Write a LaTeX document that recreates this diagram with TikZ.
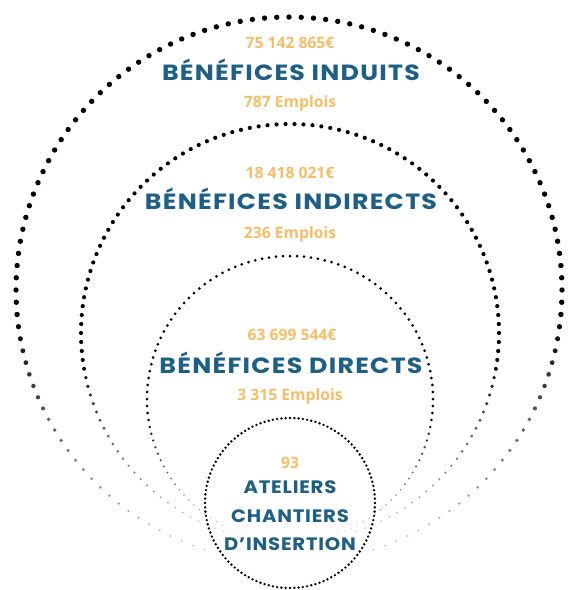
\documentclass[tikz,border=0pt]{standalone}
\usepackage{fontspec}
\newfontfamily\poptitle{Poppins}[LetterSpace=5]
\newfontfamily\popinner{Poppins}[LetterSpace=4]
\newfontfamily\osans{Open Sans}
\definecolor{tblue}{HTML}{1D5F86}
\definecolor{torange}{HTML}{F6BE66}
\tikzset{
  ttl/.style={font=\poptitle\bfseries\fontsize{22}{24}\selectfont, text=tblue, inner sep=0pt, anchor=base, xscale=1.15, transform shape},
  num/.style={font=\osans\bfseries\fontsize{15.7}{18}\selectfont, text=torange, inner sep=0pt, anchor=base},
  inner/.style={font=\popinner\bfseries\fontsize{18}{20}\selectfont, text=tblue, inner sep=0pt, anchor=base, xscale=1.09, transform shape},
}
% #1 cx, #2 cy, #3 r, #4 number of dots, #5 dot radius (pt), #6 fade (1) or not (0)
\newcommand\dotring[6]{%
  \foreach \k in {1,...,#4}{%
    \pgfmathsetmacro\ang{(360/#4)*\k}%
    \pgfmathsetmacro\sv{sin(\ang)}%
    \pgfmathsetmacro\ff{1-#6*(1-min(1,max(0,(1+\sv)/0.9)))}%
    \pgfmathparse{\ff>0.05 ? 1 : 0}%
    \ifnum\pgfmathresult=1
      \pgfmathsetmacro\pc{int(15+85*\ff)}%
      \pgfmathsetmacro\rr{#5*(0.35+0.65*\ff)}%
      \fill[black!\pc] ({#1+#3*cos(\ang)},{#2-#3*sin(\ang)}) circle[radius=\rr pt];
    \fi
  }%
}
\begin{document}
\begin{tikzpicture}[x=1pt,y=-1pt]
\fill[white] (0,0) rectangle (574,590);
\useasboundingbox (0,0) rectangle (574,590);
% rings
\dotring{289}{290}{273}{140}{2.7}{1}
\dotring{290}{333}{209}{146}{2.1}{1}
\dotring{290}{399}{143}{128}{1.5}{1}
\dotring{290}{503}{85}{124}{1.35}{0}
% texts
\node[num] (n1) at (290,48) {75 142 865€};
\node[ttl] (t1) at (291,80) {BÉNÉFICES INDUITS};
\node[num] (e1) at (290,107) {787 Emplois};
\node[num] (n2) at (290,178) {18 418 021€};
\node[ttl] (t2) at (291,209) {BÉNÉFICES INDIRECTS};
\node[num] (e2) at (290,238) {236 Emplois};
\node[num] (n3) at (292,340) {63 699 544€};
\node[ttl] (t3) at (291,373) {BÉNÉFICES DIRECTS};
\node[num] (e3) at (290,400) {3 315 Emplois};
\node[num] (n4) at (290,468) {93};
\node[inner] (a1) at (290,493) {ATELIERS};
\node[inner] (a2) at (290,522) {CHANTIERS};
\node[inner] (a3) at (290,550) {D’INSERTION};
\end{tikzpicture}
\end{document}
